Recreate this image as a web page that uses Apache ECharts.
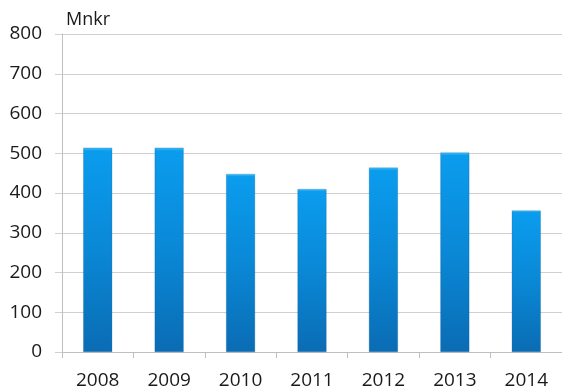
<!DOCTYPE html>
<html><head><meta charset="utf-8">
<script src="https://cdn.jsdelivr.net/npm/echarts@6/dist/echarts.min.js"></script>
<style>html,body{margin:0;padding:0;background:#fff}#c{width:562px;height:390px}</style>
</head><body><div id="c"></div>
<script>
const categories = ['2008','2009','2010','2011','2012','2013','2014'];
const values = [514, 514, 448, 410, 464, 502, 356];
const yTicks = [0,100,200,300,400,500,600,700,800];
const unitLabel = 'Mnkr';

const chart = echarts.init(document.getElementById('c'), null, {renderer:'canvas'});
const font = '"Open Sans", sans-serif';
chart.setOption({
  animation:false,
  grid:{left:62, top:34, width:502, height:318, containLabel:false},
  xAxis:{type:'category', data:categories,
    axisLine:{lineStyle:{color:'#bfbfbf'}},
    axisTick:{show:true, length:6, lineStyle:{color:'#bfbfbf'}},
    axisLabel:{color:'#1a1a1a', fontSize:19, fontFamily:font, margin:19}},
  yAxis:{type:'value', min:yTicks[0], max:yTicks[yTicks.length-1], interval:100,
    name:unitLabel, nameLocation:'end', nameGap:5,
    nameTextStyle:{color:'#1a1a1a', fontSize:18, fontFamily:font, align:'left', padding:[0,0,0,4]},
    axisLine:{show:true, lineStyle:{color:'#bfbfbf'}},
    axisTick:{show:true, length:7, lineStyle:{color:'#d0d0d0'}},
    splitLine:{lineStyle:{color:'#d0d0d0'}},
    axisLabel:{color:'#1a1a1a', fontSize:19, fontFamily:font, margin:20}},
  series:[{type:'bar', data:values, barWidth:29,
    itemStyle:{
      color:new echarts.graphic.LinearGradient(0,0,0,1,[
        {offset:0, color:'#45c4fb'},
        {offset:0.015, color:'#0b9cee'},
        {offset:0.5, color:'#0a88d6'},
        {offset:1, color:'#0a6cb4'}]),
      borderColor:'rgba(5,80,140,0.5)', borderWidth:0.5}
  }]
});
</script></body></html>
